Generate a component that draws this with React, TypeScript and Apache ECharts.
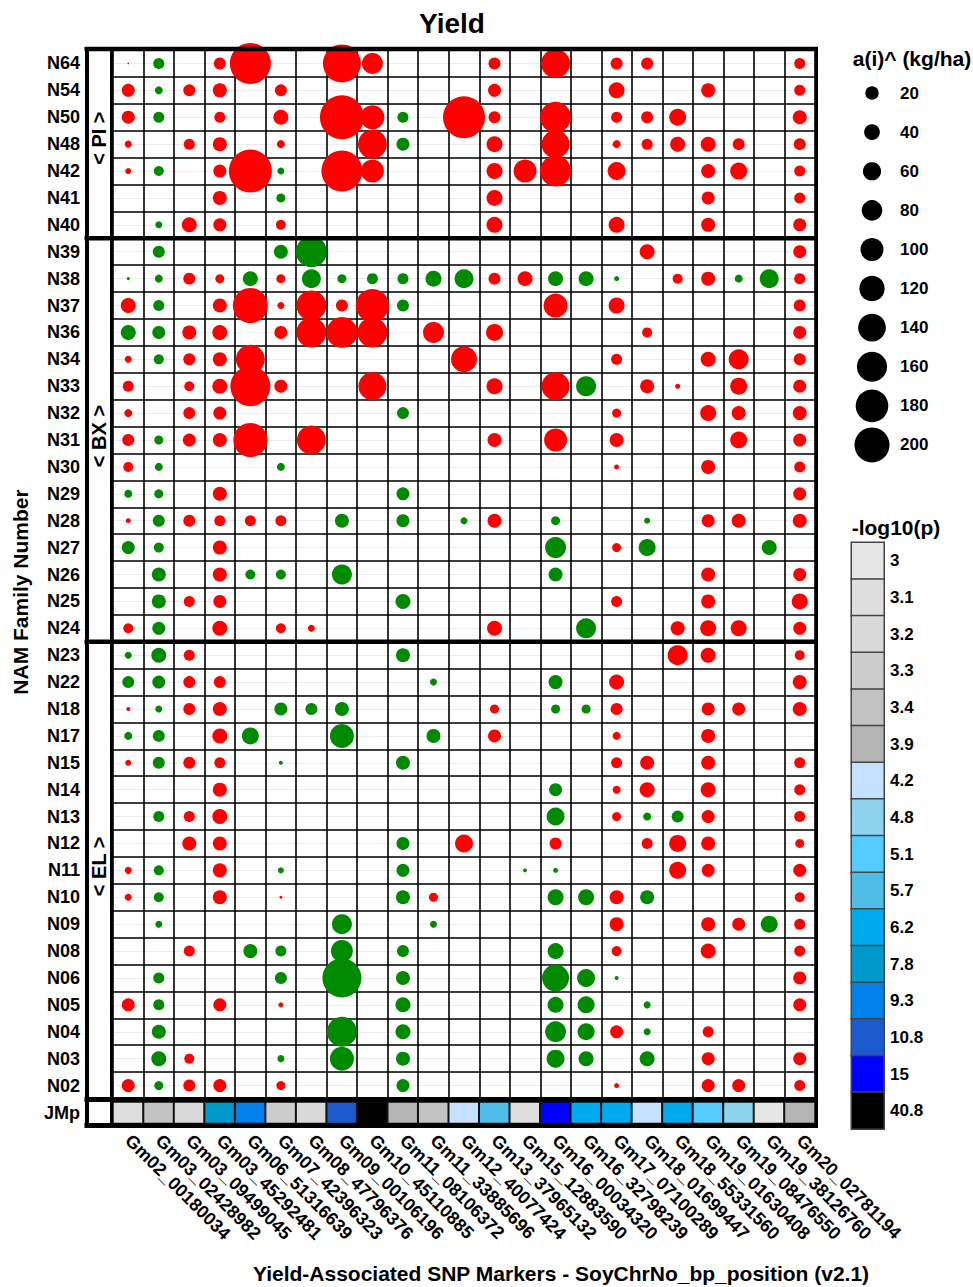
import React, { useEffect, useRef } from "react";
import * as echarts from "echarts";

const MARKERS = [
  "Gm02_00180034", "Gm03_02428982", "Gm03_09499045", "Gm03_45292481", "Gm06_51316639",
  "Gm07_42396323", "Gm08_47796376", "Gm09_00106196", "Gm10_45110885", "Gm11_08106372",
  "Gm11_33885696", "Gm12_40077424", "Gm13_37965132", "Gm15_12883590", "Gm16_00034320",
  "Gm16_32798239", "Gm17_07100289", "Gm18_01699447", "Gm18_55331560", "Gm19_01630408",
  "Gm19_08476550", "Gm19_38126760", "Gm20_02781194",
];

const PI_FAMILIES = ["N64", "N54", "N50", "N48", "N42", "N41", "N40"];
const BX_FAMILIES = ["N39", "N38", "N37", "N36", "N34", "N33", "N32", "N31", "N30", "N29", "N28", "N27", "N26", "N25", "N24"];
const EL_FAMILIES = ["N23", "N22", "N18", "N17", "N15", "N14", "N13", "N12", "N11", "N10", "N09", "N08", "N06", "N05", "N04", "N03", "N02"];

// a(i)^ additive effects (kg/ha); positive = red, negative = green, 0 = not significant
const PI_EFFECTS = [
  [8, -55, 0, 60, 205, 0, 0, 190, 105, 0, 0, 0, 60, 0, 145, 0, 60, 60, 0, 0, 0, 0, 55],
  [65, -40, 60, 70, 0, 60, 0, 0, 0, 0, 0, 0, 65, 0, 0, 0, 80, 0, 0, 70, 0, 0, 55],
  [65, -55, 0, 55, 0, 75, 0, 220, 120, -55, 0, 210, 60, 0, 155, 0, 55, 60, 85, 0, 0, 0, 70],
  [35, 0, 55, 70, 0, 40, 0, 0, 145, -65, 0, 0, 80, 0, 140, 0, 40, 55, 75, 75, 60, 0, 60],
  [30, -50, 0, 65, 215, -35, 0, 205, 115, 0, 0, 0, 80, 115, 155, 0, 90, 0, 0, 70, 85, 0, 55],
  [0, 0, 0, 70, 0, -45, 0, 0, 0, 0, 0, 0, 80, 0, 0, 0, 0, 0, 0, 65, 0, 0, 55],
  [0, -35, 75, 65, 0, 50, 0, 0, 0, 0, 0, 0, 80, 0, 0, 0, 80, 0, 0, 70, 0, 0, 65],
];
const BX_EFFECTS = [
  [0, -60, 0, 0, 0, -70, -155, 0, 0, 0, 0, 0, 0, 0, 0, 0, 0, 75, 0, 0, 0, 0, 65],
  [-15, -40, 60, 45, -75, 45, -95, -45, -55, -55, -80, -95, 60, 75, -75, -75, -25, 0, 50, 70, -40, -95, 55],
  [75, -55, 0, 70, 175, 35, 150, 60, 165, -60, 0, 0, 0, 0, 120, 0, 80, 0, 0, 0, 0, 0, 60],
  [-75, -65, 70, 75, 0, 65, 150, 155, 150, 0, 105, 0, 85, 0, 0, 0, 0, 50, 0, 0, 0, 0, 65],
  [35, -50, 60, 70, 145, 0, 0, 0, 0, 0, 0, 130, 0, 0, 0, 0, 55, 0, 0, 75, 100, 0, 60],
  [55, 0, 50, 75, 200, 65, 0, 0, 140, 0, 0, 0, 80, 0, 140, -100, 0, 70, 25, 0, 85, 0, 65],
  [40, 0, 60, 65, 0, 0, 0, 0, 0, -60, 0, 0, 0, 0, 0, 0, 45, 0, 0, 80, 70, 0, 70],
  [60, -45, 65, 70, 170, 0, 145, 0, 0, 0, 0, 0, 70, 0, 115, 0, 70, 0, 0, 0, 85, 0, 65],
  [50, -40, 0, 0, 0, -40, 0, 0, 0, 0, 0, 0, 0, 0, 0, 0, 25, 0, 0, 70, 0, 0, 55],
  [-40, -45, 0, 70, 0, 0, 0, 0, 0, -65, 0, 0, 0, 0, 0, 0, 0, 0, 0, 0, 0, 0, 65],
  [25, -60, 60, 55, 55, 55, 0, -70, 0, -65, 0, -35, 70, 0, -45, 0, 0, -30, 0, 65, 70, 0, 70],
  [-65, -50, 0, 70, 0, 0, 0, 0, 0, 0, 0, 0, 0, 0, -105, 0, 45, -85, 0, 0, 0, -75, 0],
  [0, -70, 0, 70, -50, -50, 0, -100, 0, 0, 0, 0, 0, 0, -70, 0, 0, 0, 0, 70, 0, 0, 65],
  [0, -70, 55, 65, 0, 0, 0, 0, 0, -75, 0, 0, 0, 0, 0, 0, 55, 0, 0, 70, 0, 0, 80],
  [50, -65, 0, 75, 0, 50, 35, 0, 0, 0, 0, 0, 75, 0, 0, -100, 0, 0, 70, 80, 80, 0, 65],
];
const EL_EFFECTS = [
  [-35, -75, 55, 0, 0, 0, 0, 0, 0, -70, 0, 0, 0, 0, 0, 0, 0, 0, 100, 75, 0, 0, 50],
  [-60, -65, 60, 60, 0, 0, 0, 0, 0, 0, -35, 0, 0, 0, -70, 0, 75, 0, 0, 0, 0, 0, 70],
  [20, -35, 60, 70, 0, -65, -60, -70, 0, 0, 0, 0, 45, 0, -45, -45, 60, 0, 0, 65, 65, 0, 70],
  [-40, -60, 0, 75, -85, 0, 0, -120, 0, 0, -70, 0, 65, 0, 0, 0, 40, 0, 0, 70, 0, 0, 0],
  [30, -60, 60, 55, 0, -20, 0, 0, 0, -70, 0, 0, 0, 0, 0, 0, 55, 70, 0, 70, 0, 0, 55],
  [0, 0, 0, 70, 0, 0, 0, 0, 0, 0, 0, 0, 0, 0, -65, 0, 40, 75, 0, 75, 0, 0, 55],
  [0, -55, 55, 75, 0, 0, 0, 0, 0, 0, 0, 0, 0, 0, -90, 0, 45, -40, -60, 65, 0, 0, 55],
  [0, 0, 70, 70, 0, 0, 0, 0, 0, -65, 0, 90, 0, 0, 60, 0, 0, 55, 85, 70, 0, 0, 45],
  [35, -50, 0, 70, 0, -30, 0, 0, 0, -65, 0, 0, 0, -20, -25, 0, 0, 0, 85, 65, 0, 0, 65],
  [35, -50, 0, 70, 0, 15, 0, 0, 0, -70, 45, 0, 0, 0, -80, -80, 70, -70, 0, 0, 0, 0, 50],
  [0, -35, 0, 0, 0, 0, 0, -100, 0, 0, -35, 0, 0, 0, 0, 0, 70, 0, 0, 70, 65, -85, 55],
  [0, 0, 55, 0, -70, -55, 0, -110, 0, -60, 0, 0, 0, 0, -80, 0, 50, 0, 0, 75, 0, 0, 55],
  [0, -55, 0, 0, 0, -60, 0, -195, 0, -70, 0, 0, 0, 0, -135, -90, -20, 0, 0, 0, 0, 0, 65],
  [65, -55, 0, 65, 0, 25, 0, 0, 0, -75, 0, 0, 0, 0, -80, -85, 0, -35, 0, 0, 0, 0, 65],
  [0, -70, 0, 0, 0, 0, 0, -150, 0, -75, 0, 0, 0, 0, -105, -85, 65, -35, 0, 55, 0, 0, 0],
  [0, -75, 50, 0, 0, -35, 0, -120, 0, -70, 0, 0, 0, 0, -90, -75, 0, -75, 0, 65, 0, 0, 65],
  [65, -45, 60, 65, 0, 45, 0, 0, 0, -65, 0, 0, 0, 0, 0, 0, 25, 0, 0, 65, 65, 0, 55],
];

// -log10(p) of each marker in the joint model (JMp)
const JMP_LOGP = [3.1, 3.4, 3.2, 7.8, 9.3, 3.3, 3.2, 10.8, 40.8, 3.9, 3.4, 4.2, 5.7, 3.1, 15, 6.2, 6.2, 4.2, 6.2, 5.1, 4.8, 3, 3.9];

const LOGP_LEVELS = [3, 3.1, 3.2, 3.3, 3.4, 3.9, 4.2, 4.8, 5.1, 5.7, 6.2, 7.8, 9.3, 10.8, 15, 40.8];
const LOGP_COLORS = [
  "#e6e6e6", "#dedede", "#d9d9d9", "#cdcdcd", "#c2c2c2", "#b4b4b4",
  "#c4e2ff", "#8dd3ee", "#55ccff", "#4fbde8", "#00aaee", "#0099cc",
  "#0080e8", "#1a5acc", "#0000ff", "#000000",
];

const SIZE_LEGEND = [20, 40, 60, 80, 100, 120, 140, 160, 180, 200];

const FONT = "'Liberation Sans', Arial, Helvetica, sans-serif";
const RED = "#ff0000";
const GREEN = "#008a00";

// layout
const GL = 113;
const GR = 815;
const GT = 50;
const GB = 1099;
const NROWS = PI_FAMILIES.length + BX_FAMILIES.length + EL_FAMILIES.length;
const CH = (GB - GT) / NROWS;
const JT = 1102;
const JH = 21.5;

export default function App() {
  const ref = useRef<HTMLDivElement>(null);

  useEffect(() => {
    document.body.style.margin = "0";
    const el = ref.current;
    if (!el) return;
    const chart = echarts.init(el, null, { renderer: "svg" });

    const families = [...PI_FAMILIES, ...BX_FAMILIES, ...EL_FAMILIES];
    const effects = [...PI_EFFECTS, ...BX_EFFECTS, ...EL_EFFECTS];
    const bubbleData: any[] = [];
    effects.forEach((row, r) => {
      row.forEach((v, c) => {
        if (v !== 0) {
          bubbleData.push({ value: [c, r, v], itemStyle: { color: v > 0 ? RED : GREEN, opacity: 1 } });
        }
      });
    });

    const rowY = (r: number) => GT + CH * (r + 0.5);
    const sep1 = GT + CH * PI_FAMILIES.length;
    const sep2 = GT + CH * (PI_FAMILIES.length + BX_FAMILIES.length);
    const piMid = rowY((PI_FAMILIES.length - 1) / 2) - 6;
    const bxMid = rowY(PI_FAMILIES.length + (BX_FAMILIES.length - 1) / 2) - 4;
    const elMid = rowY(PI_FAMILIES.length + BX_FAMILIES.length + (EL_FAMILIES.length - 1) / 2) - 4;

    const txt = (text: string, x: number, y: number, size: number, rotation = 0) => ({
      type: "text",
      x,
      y,
      rotation,
      z: 200,
      style: {
        text,
        font: `bold ${size}px ${FONT}`,
        fill: "#000",
        align: "center",
        verticalAlign: "middle",
        textAlign: "center",
        textVerticalAlign: "middle",
      },
    });
    const ln = (x1: number, y1: number, x2: number, y2: number, w: number) => ({
      type: "line",
      z: 150,
      shape: { x1, y1, x2, y2 },
      style: { stroke: "#000", lineWidth: w },
    });

    const labelStyle = { color: "#000", fontFamily: FONT, fontWeight: "bold" as const, fontSize: 18 };

    const option: any = {
      animation: false,
      backgroundColor: "#fff",
      grid: [
        { left: GL, top: GT, width: GR - GL, height: GB - GT },
        { left: GL, top: JT, width: GR - GL, height: JH },
        { left: 852, top: 73.5, width: 40, height: 391 },
        { left: 851.5, top: 542.5, width: 32.5, height: 586.5 },
      ],
      xAxis: [
        {
          type: "category", gridIndex: 0, data: MARKERS,
          axisLabel: { show: false }, axisTick: { show: false }, axisLine: { show: false },
          splitLine: { show: true, interval: 0, lineStyle: { color: "#000", width: 1.6 } },
        },
        {
          type: "category", gridIndex: 1, data: MARKERS,
          axisTick: { show: false }, axisLine: { show: false }, splitLine: { show: false },
          axisLabel: { ...labelStyle, fontSize: 18, rotate: -45, margin: 14, interval: 0 },
        },
        { type: "category", gridIndex: 2, data: ["s"], show: false },
        { type: "category", gridIndex: 3, data: ["c"], show: false },
      ],
      yAxis: [
        {
          type: "category", gridIndex: 0, inverse: true, z: -1, position: "right",
          data: Array.from({ length: NROWS * 2 }, () => ""),
          axisLabel: { show: false }, axisTick: { show: false }, axisLine: { show: false },
          splitLine: { show: true, interval: 0, lineStyle: { color: "#ececec", width: 1 } },
        },
        {
          type: "category", gridIndex: 0, inverse: true, data: families, position: "left",
          axisTick: { show: false }, axisLine: { show: false },
          axisLabel: { ...labelStyle, margin: 33, interval: 0 },
          splitLine: { show: true, interval: 0, lineStyle: { color: "#000", width: 1.6 } },
        },
        {
          type: "category", gridIndex: 1, data: ["JMp"], position: "left",
          axisTick: { show: false }, axisLine: { show: false }, splitLine: { show: false },
          axisLabel: { ...labelStyle, margin: 33 },
        },
        {
          type: "category", gridIndex: 2, inverse: true, position: "right",
          data: SIZE_LEGEND.map(String),
          axisTick: { show: false }, axisLine: { show: false }, splitLine: { show: false },
          axisLabel: { ...labelStyle, fontSize: 17, margin: 8, align: "left" },
        },
        {
          type: "category", gridIndex: 3, inverse: true, position: "right",
          data: LOGP_LEVELS.map(String),
          axisTick: { show: false }, axisLine: { show: false }, splitLine: { show: false },
          axisLabel: { ...labelStyle, fontSize: 17, margin: 6, align: "left" },
        },
      ],
      visualMap: [
        {
          type: "piecewise",
          show: false,
          dimension: 2,
          seriesIndex: [1, 3],
          pieces: LOGP_LEVELS.map((v, i) => ({ value: v, color: LOGP_COLORS[i] })),
        },
      ],
      series: [
        {
          type: "scatter", xAxisIndex: 0, yAxisIndex: 1, silent: true,
          symbol: "circle",
          symbolSize: (val: number[]) => Math.abs(val[2]) / 5,
          itemStyle: { opacity: 1 },
          data: bubbleData,
        },
        {
          type: "heatmap", xAxisIndex: 1, yAxisIndex: 2, silent: true,
          data: JMP_LOGP.map((p, i) => [i, 0, p]),
          itemStyle: { borderColor: "#111", borderWidth: 2 },
        },
        {
          type: "scatter", xAxisIndex: 2, yAxisIndex: 3, silent: true,
          symbol: "circle",
          symbolSize: (val: number[]) => 11 + 0.12 * val[2],
          itemStyle: { color: "#000", opacity: 1 },
          data: SIZE_LEGEND.map((v, i) => [0, i, v]),
        },
        {
          type: "heatmap", xAxisIndex: 3, yAxisIndex: 4, silent: true,
          data: LOGP_LEVELS.map((p, i) => [0, i, p]),
          itemStyle: { borderColor: "#444", borderWidth: 1.5 },
        },
      ],
      graphic: [
        // frame & separators
        ln(84.5, 49, 818, 49, 4.5),
        ln(84.5, sep1, 818, sep1, 4.5),
        ln(84.5, sep2, 818, sep2, 4.5),
        ln(84.5, 1099.5, 818, 1099.5, 5),
        ln(84.5, 1125.5, 818, 1125.5, 5),
        ln(87, 47, 87, 1128, 4),
        ln(111.5, 47, 111.5, 1128, 3),
        ln(816.5, 47, 816.5, 1128, 3),
        // texts
        txt("Yield", 452, 23, 28),
        txt("< PI >", 99, piMid, 20, Math.PI / 2),
        txt("< BX >", 99, bxMid, 20, Math.PI / 2),
        txt("< EL >", 99, elMid, 20, Math.PI / 2),
        txt("NAM Family Number", 20, 592, 21, Math.PI / 2),
        txt("Yield-Associated SNP Markers - SoyChrNo_bp_position (v2.1)", 561, 1273, 21),
        txt("a(i)^ (kg/ha)", 912, 58, 21),
        txt("-log10(p)", 896, 527, 21),
      ],
    };

    chart.setOption(option);
    return () => chart.dispose();
  }, []);

  return <div ref={ref} style={{ width: 973, height: 1287, background: "#fff", overflow: "hidden" }} />;
}
